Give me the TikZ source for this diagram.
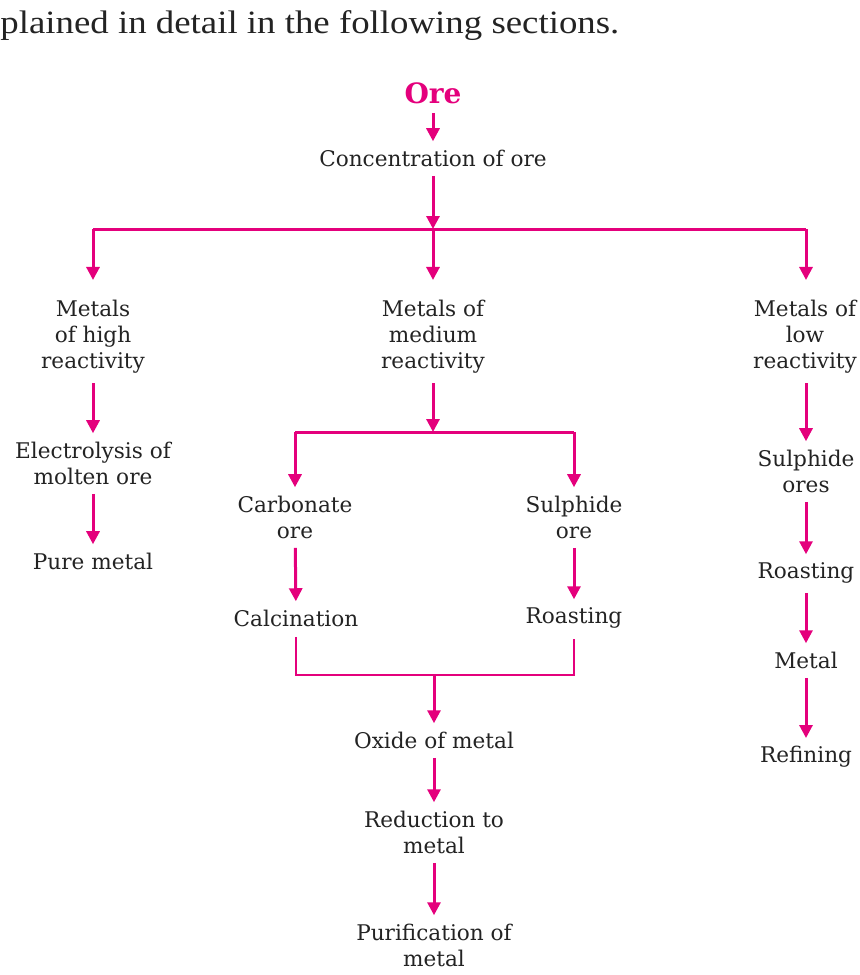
\documentclass[tikz,border=0pt]{standalone}
\usepackage{fontspec}
\setmainfont{DejaVu Serif}
\newfontfamily\headfont[FakeStretch=1.13]{Liberation Serif}
\usetikzlibrary{arrows.meta}
\definecolor{mag}{RGB}{228,0,124}
\definecolor{ink}{RGB}{35,35,35}
\begin{document}
\begin{tikzpicture}[x=0.5pt,y=-0.5pt,
  lbl/.style={align=center,inner sep=0pt,text=ink,font=\fontsize{10.8}{13}\selectfont},
  arr/.style={draw=mag,line width=1.5pt,-{Triangle[width=6.5pt,length=6.5pt]}},
  gap/.style={shorten <=4.5pt,shorten >=4pt},
  gapend/.style={shorten >=4pt},
  farend/.style={shorten >=10pt},
  barline/.style={draw=mag,line width=1.5pt},
  thinline/.style={draw=mag,line width=0.8pt}]
\useasboundingbox (0,0) rectangle (859,975);
\clip (0,0) rectangle (859,975);
% heading
\node[anchor=base west,inner sep=0pt,text=ink,font=\headfont\fontsize{16.3}{19}\selectfont] (head) at (0,33) {plained in detail in the following sections.};
% nodes
\node[inner sep=0pt,text=mag,font=\fontsize{14}{16}\selectfont\bfseries] (ore) at (433,93) {Ore};
\node[lbl] (conc) at (433,158) {Concentration of ore};
\node[lbl] (high) at (93,337) {Metals\\of high\\reactivity};
\node[lbl] (med) at (433,337) {Metals of\\medium\\reactivity};
\node[lbl] (low) at (805,337) {Metals of\\low\\reactivity};
\node[lbl] (elec) at (93,463) {Electrolysis of\\molten ore};
\node[lbl] (pure) at (93,561) {Pure metal};
\node[lbl] (carb) at (295,517) {Carbonate\\ore};
\node[lbl] (sulo) at (574,517) {Sulphide\\ore};
\node[lbl] (calc) at (296,618) {Calcination};
\node[lbl] (roast) at (574,618) {Roasting};
\node[lbl] (oxide) at (434,740) {Oxide of metal};
\node[lbl] (red) at (434,832) {Reduction to\\metal};
\node[lbl] (pur) at (434,945) {Purification of\\metal};
\node[lbl] (sulores) at (806,471) {Sulphide\\ores};
\node[lbl] (roast2) at (806,573) {Roasting};
\node[lbl] (metal) at (806,660) {Metal};
\node[lbl] (refin) at (806,757) {Refining};
% junctions
\coordinate (j1) at (433,229);
\coordinate (j2) at (433,432);
\coordinate (j3) at (434,675);
% top
\draw[arr,gap] (ore) -- (conc);
\draw[arr,shorten <=4.5pt] (conc) -- (j1);
\draw[barline] (high |- j1) -- (sulores |- j1);
\draw[arr,farend] (high |- j1) -- (high);
\draw[arr,farend] (j1) -- (med);
\draw[arr,farend] (sulores |- j1) -- (sulores |- low.north);
% left
\draw[arr,gap] (high) -- (elec);
\draw[arr,gap] (elec) -- (pure);
% middle
\draw[arr,shorten <=4.5pt] (med) -- (j2);
\draw[barline] (carb |- j2) -- (sulo |- j2);
\draw[arr,gapend] (carb |- j2) -- (carb);
\draw[arr,gapend] (sulo |- j2) -- (sulo);
\draw[arr,gap] (carb) -- (calc);
\draw[arr,gap] (sulo) -- (roast);
\draw[thinline,shorten <=5pt,shorten >=5pt] (calc.south) |- (j3) -| (roast.south);
\draw[arr,gapend] (j3) -- (oxide);
\draw[arr,gap] (oxide) -- (red);
\draw[arr,gap] (red) -- (pur);
% right
\draw[arr,gap] (sulores |- low.south) -- (sulores);
\draw[arr,gap] (sulores) -- (roast2);
\draw[arr,gap] (roast2) -- (metal);
\draw[arr,gap] (metal) -- (refin);
\end{tikzpicture}
\end{document}
